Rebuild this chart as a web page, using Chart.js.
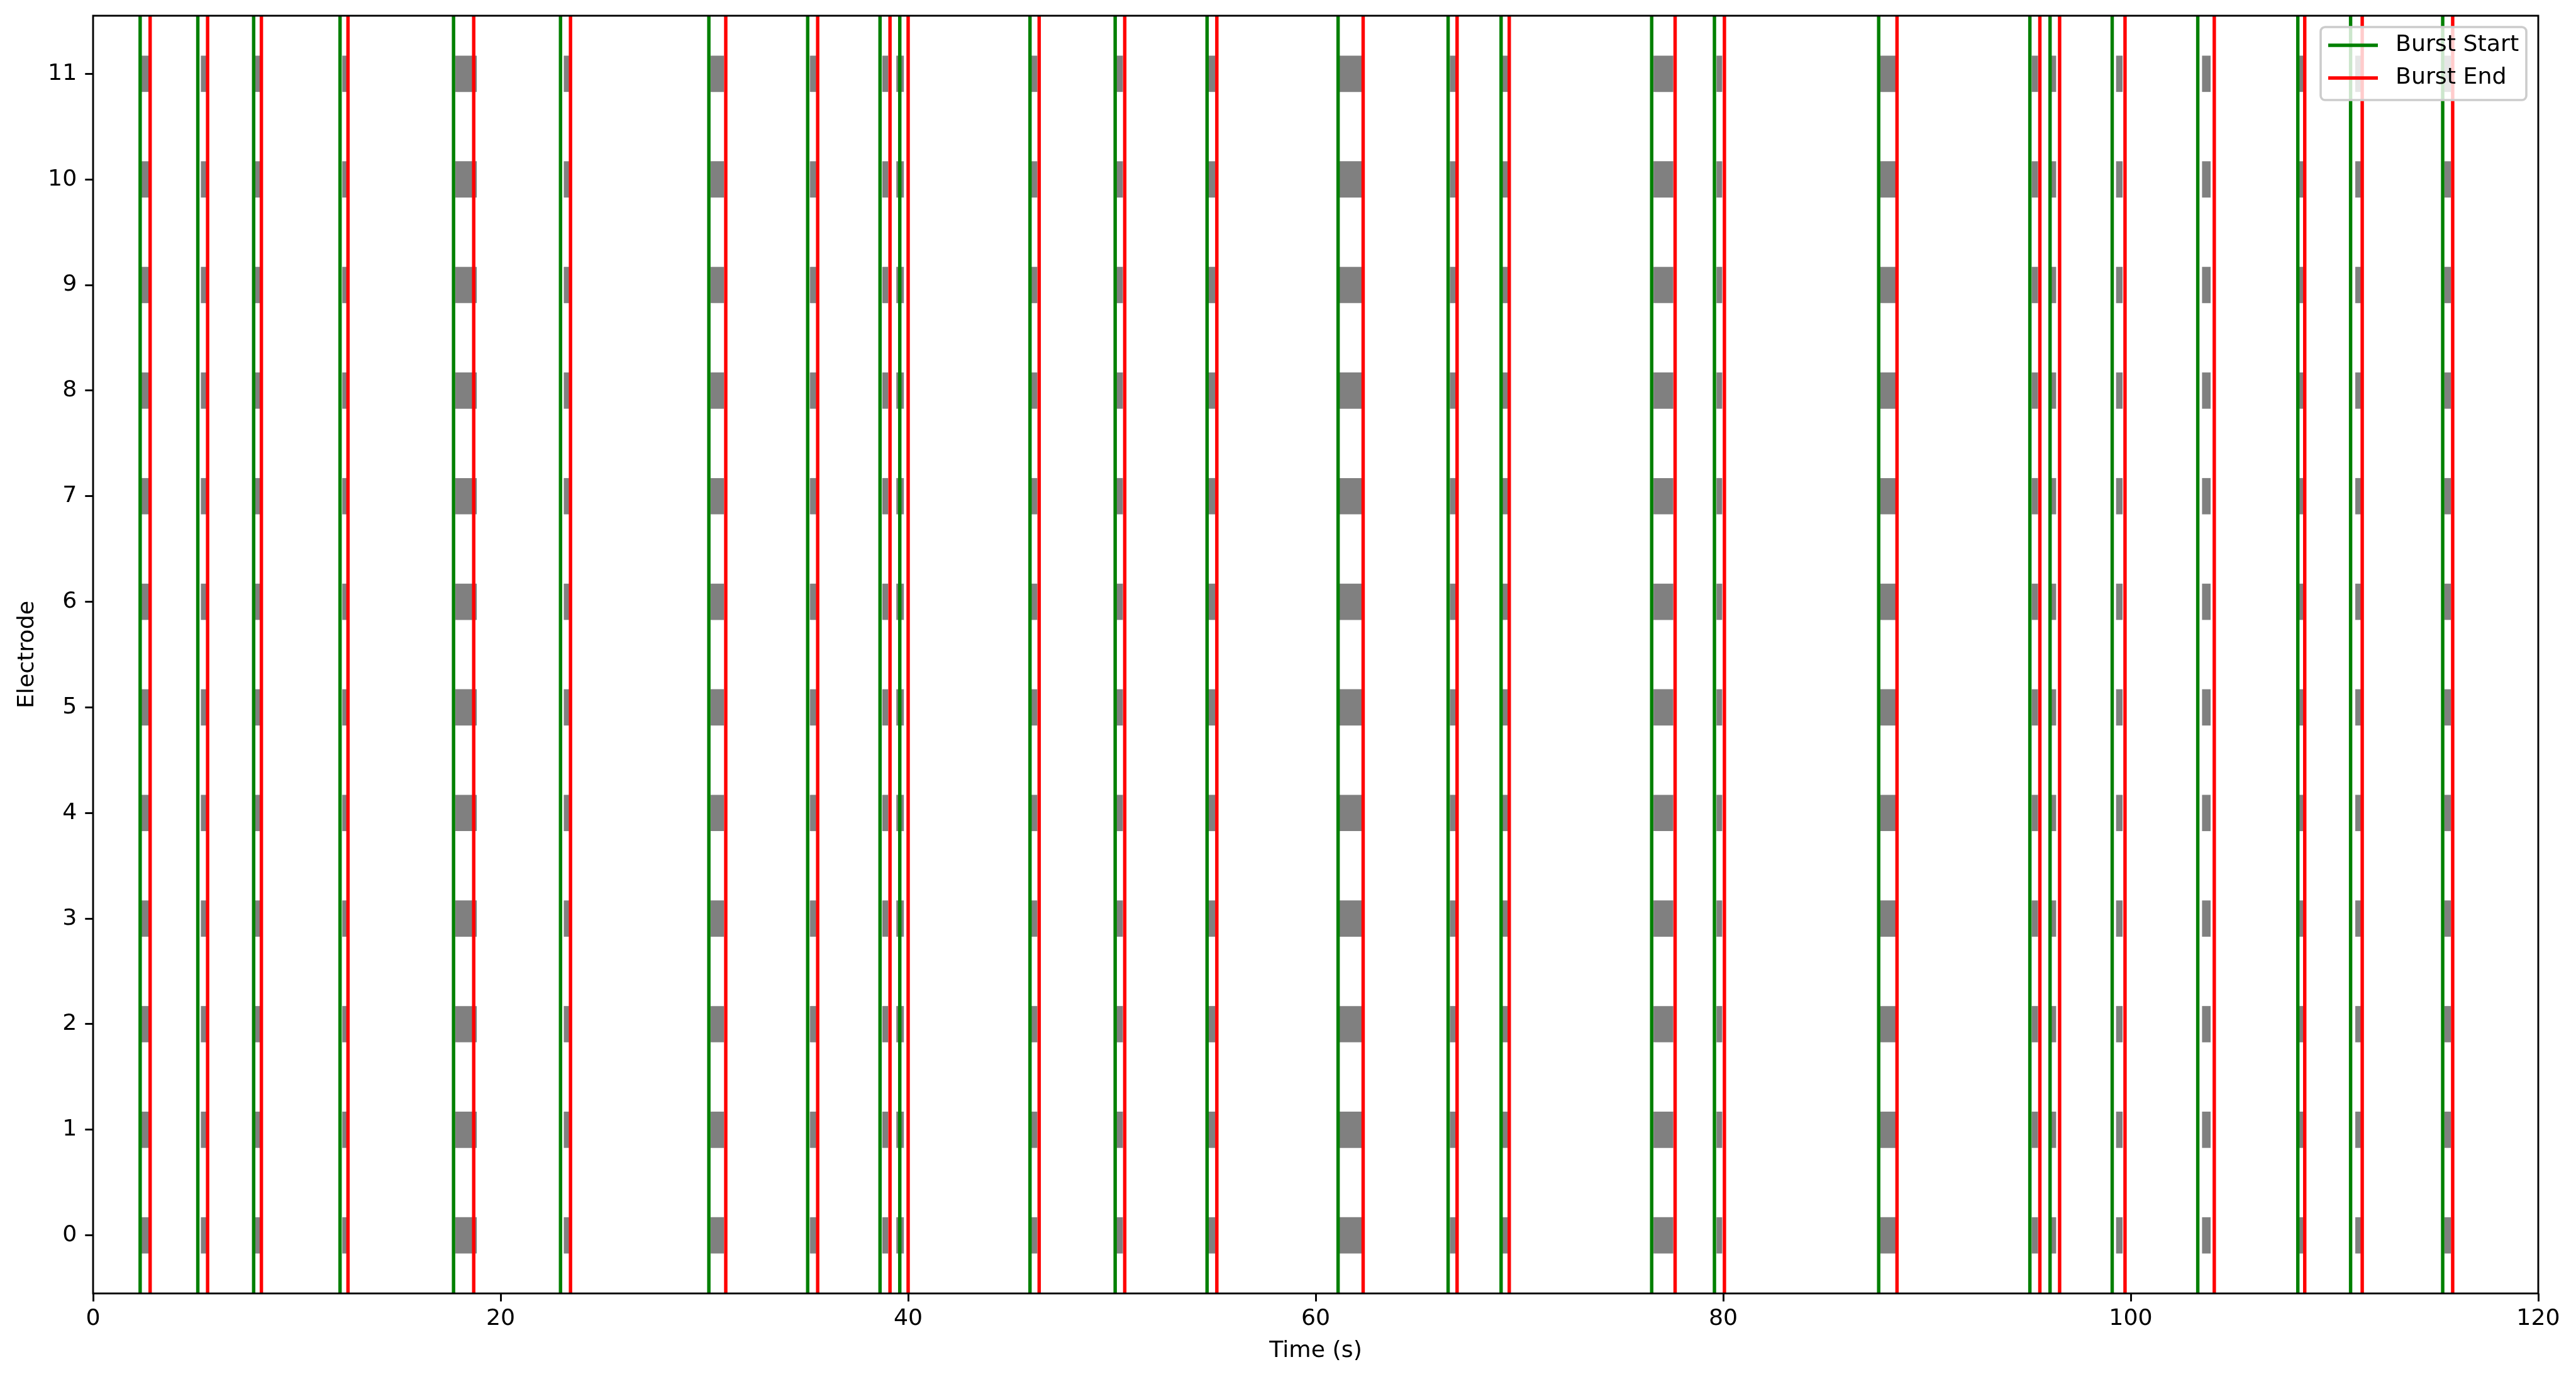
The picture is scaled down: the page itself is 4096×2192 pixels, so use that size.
<!DOCTYPE html>
<html>
<head>
<meta charset="utf-8">
<script src="https://cdn.jsdelivr.net/npm/chart.js@4.4.1/dist/chart.umd.min.js"></script>
<style>
  html, body { margin: 0; padding: 0; background: #ffffff; }
  #wrap { width: 4096px; height: 2192px; }
</style>
</head>
<body>
<div id="wrap"><canvas id="c" width="4096" height="2192"></canvas></div>
<script>
// ---------------- data ----------------
const electrodes = [0, 1, 2, 3, 4, 5, 6, 7, 8, 9, 10, 11];
const xTickValues = [0, 20, 40, 60, 80, 100, 120];
const seriesLabels = ['Burst Start', 'Burst End'];

const burstStart = [2.31, 5.14, 7.88, 12.12, 17.69, 22.94, 30.22, 35.07, 38.62, 39.59,
  45.98, 50.16, 54.67, 61.10, 66.50, 69.10, 76.49, 79.57, 87.63, 95.05,
  96.04, 99.09, 103.29, 108.20, 110.79, 115.31];
const burstEnd = [2.80, 5.62, 8.26, 12.51, 18.68, 23.43, 31.05, 35.56, 39.11, 40.00,
  46.43, 50.63, 55.15, 62.33, 66.94, 69.50, 77.64, 80.06, 88.53, 95.54,
  96.51, 99.72, 104.10, 108.54, 111.36, 115.80];

// extent of the dense spike trains (gray event marks) in every burst
const spikeFirst = [2.38, 5.30, 7.96, 12.24, 17.79, 23.11, 30.32, 35.19, 38.74, 39.43,
  46.04, 50.24, 54.75, 61.18, 66.60, 69.16, 76.59, 79.68, 87.72, 95.15,
  96.04, 99.29, 103.51, 108.24, 111.03, 115.40];
const spikeLast = [2.72, 5.58, 8.20, 12.47, 18.82, 23.35, 30.95, 35.48, 39.01, 39.78,
  46.33, 50.53, 55.07, 62.25, 66.87, 69.42, 77.54, 79.94, 88.45, 95.44,
  96.33, 99.59, 103.91, 108.48, 111.30, 115.70];

const xMin = 0, xMax = 120;
const yMin = -0.55, yMax = 11.55;

// ---------------- styling constants ----------------
const FONT = 36.3;
const LW = 5.44;
const SPINE = 2.9;
const TICKLEN = 12.7;
const FAMILY = "'DejaVu Sans', 'Liberation Sans', sans-serif";

Chart.defaults.font.family = FAMILY;
Chart.defaults.color = '#000000';

// ---------------- build datasets from the arrays ----------------
const spikeBlocks = [];
electrodes.forEach(e => {
  spikeFirst.forEach((s, i) => spikeBlocks.push({ y: e, x: [s, spikeLast[i]] }));
});

function verticalLines(times) {
  const d = [];
  times.forEach(t => { d.push({ x: t, y: yMin }, { x: t, y: yMax }, { x: t, y: null }); });
  return d;
}

const frameLegend = {
  id: 'frameLegend',
  afterDatasetsDraw(chart) {
    const { ctx, chartArea: a } = chart;
    ctx.save();
    // full box of spines
    ctx.strokeStyle = '#000000';
    ctx.lineWidth = SPINE;
    ctx.strokeRect(a.left, a.top, a.right - a.left, a.bottom - a.top);

    // legend box (upper right)
    const w = 327, h = 116, r = 7;
    const bx = a.right - 19 - w, by = a.top + 18;
    ctx.beginPath();
    ctx.moveTo(bx + r, by);
    ctx.lineTo(bx + w - r, by);
    ctx.arcTo(bx + w, by, bx + w, by + r, r);
    ctx.lineTo(bx + w, by + h - r);
    ctx.arcTo(bx + w, by + h, bx + w - r, by + h, r);
    ctx.lineTo(bx + r, by + h);
    ctx.arcTo(bx, by + h, bx, by + h - r, r);
    ctx.lineTo(bx, by + r);
    ctx.arcTo(bx, by, bx + r, by, r);
    ctx.closePath();
    ctx.fillStyle = 'rgba(255,255,255,0.8)';
    ctx.fill();
    ctx.strokeStyle = '#cccccc';
    ctx.lineWidth = 3.6;
    ctx.stroke();

    const items = chart.data.datasets.filter(ds => seriesLabels.includes(ds.label));
    ctx.font = FONT + 'px ' + FAMILY;
    ctx.textBaseline = 'middle';
    ctx.textAlign = 'left';
    items.forEach((ds, i) => {
      const cy = by + 29 + i * 52;
      ctx.beginPath();
      ctx.strokeStyle = ds.borderColor;
      ctx.lineWidth = LW;
      ctx.lineCap = 'butt';
      ctx.moveTo(bx + 12, cy);
      ctx.lineTo(bx + 91, cy);
      ctx.stroke();
      ctx.fillStyle = '#000000';
      ctx.fillText(ds.label, bx + 119, cy);
    });
    ctx.restore();
  }
};

new Chart(document.getElementById('c'), {
  type: 'bar',
  data: {
    datasets: [
      {
        type: 'bar',
        label: 'Spikes',
        indexAxis: 'y',
        data: spikeBlocks,
        backgroundColor: '#808080',
        borderWidth: 0,
        barThickness: 57,
        order: 3
      },
      {
        type: 'line',
        label: seriesLabels[0],
        data: verticalLines(burstStart),
        borderColor: '#008000',
        borderWidth: LW,
        pointRadius: 0,
        fill: false,
        tension: 0,
        spanGaps: false,
        order: 2
      },
      {
        type: 'line',
        label: seriesLabels[1],
        data: verticalLines(burstEnd),
        borderColor: '#ff0000',
        borderWidth: LW,
        pointRadius: 0,
        fill: false,
        tension: 0,
        spanGaps: false,
        order: 1
      }
    ]
  },
  options: {
    responsive: false,
    animation: false,
    devicePixelRatio: 1,
    layout: { padding: { left: 0, top: 25, right: 60, bottom: 0 } },
    plugins: { legend: { display: false }, tooltip: { enabled: false } },
    scales: {
      x: {
        type: 'linear',
        position: 'bottom',
        min: xMin,
        max: xMax,
        offset: false,
        afterBuildTicks: s => { s.ticks = xTickValues.map(v => ({ value: v })); },
        afterFit: s => { s.height = 136; s.paddingLeft = 0; s.paddingRight = 0; },
        grid: { display: true, drawOnChartArea: false, drawTicks: true, tickLength: TICKLEN,
                tickWidth: SPINE, tickColor: '#000000', offset: false },
        border: { display: false },
        ticks: { autoSkip: false, maxRotation: 0, padding: 6, color: '#000000',
                 font: { size: FONT } },
        title: { display: true, text: 'Time (s)', color: '#000000',
                 font: { size: FONT }, padding: { top: 0, bottom: 23 } }
      },
      y: {
        type: 'linear',
        position: 'left',
        min: yMin,
        max: yMax,
        offset: false,
        afterBuildTicks: s => { s.ticks = electrodes.map(v => ({ value: v })); },
        afterFit: s => { s.width = 148; s.paddingTop = 0; s.paddingBottom = 0; },
        grid: { display: true, drawOnChartArea: false, drawTicks: true, tickLength: TICKLEN,
                tickWidth: SPINE, tickColor: '#000000', offset: false },
        border: { display: false },
        ticks: { autoSkip: false, padding: 13, color: '#000000', font: { size: FONT } },
        title: { display: true, text: 'Electrode', color: '#000000',
                 font: { size: FONT }, padding: { top: 21.7, bottom: 0 } }
      }
    }
  },
  plugins: [frameLegend]
});
</script>
</body>
</html>
